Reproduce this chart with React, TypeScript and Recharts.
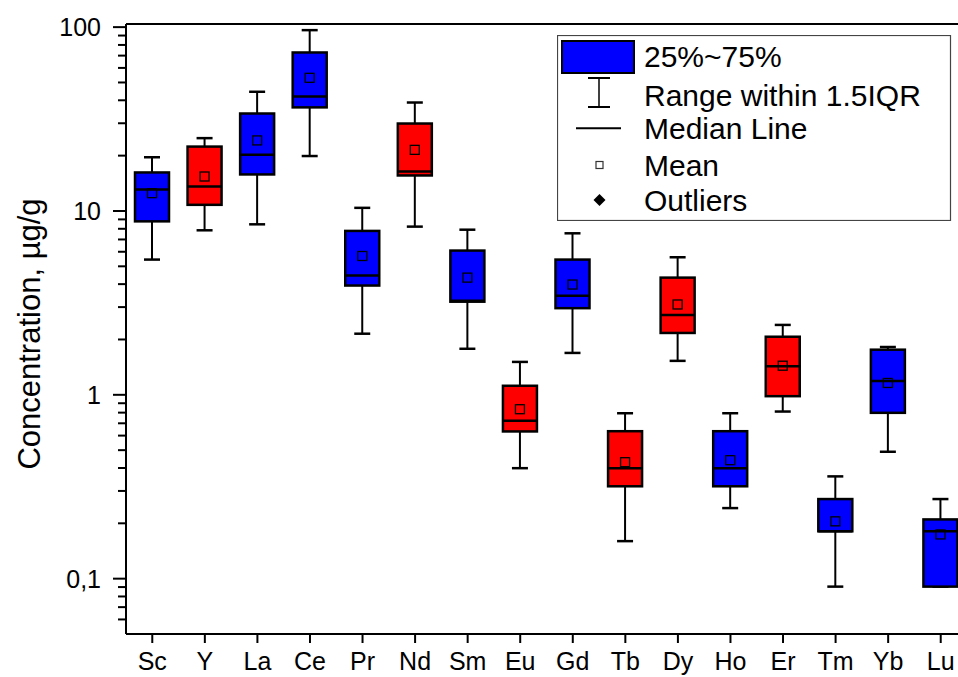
import React from "react";
import {
  Bar,
  ComposedChart,
  ReferenceLine,
  XAxis,
  YAxis,
} from "recharts";

const elements = ["Sc", "Y", "La", "Ce", "Pr", "Nd", "Sm", "Eu", "Gd", "Tb", "Dy", "Ho", "Er", "Tm", "Yb", "Lu"];
const whiskerLow = [5.44, 7.85, 8.46, 19.9, 2.15, 8.22, 1.78, 0.399, 1.69, 0.16, 1.53, 0.242, 0.811, 0.0905, 0.49, 0.0905];
const q1 = [8.78, 10.8, 15.8, 36.6, 3.93, 15.6, 3.21, 0.632, 2.96, 0.318, 2.17, 0.318, 0.983, 0.181, 0.798, 0.0905];
const median = [13.1, 13.6, 20.2, 42.0, 4.45, 16.4, 3.25, 0.722, 3.46, 0.399, 2.72, 0.399, 1.43, 0.181, 1.19, 0.181];
const q3 = [16.2, 22.4, 33.9, 72.8, 7.79, 29.9, 6.09, 1.12, 5.44, 0.634, 4.34, 0.634, 2.07, 0.271, 1.76, 0.21];
const whiskerHigh = [19.6, 24.9, 44.5, 96.3, 10.4, 38.9, 7.91, 1.51, 7.56, 0.794, 5.6, 0.794, 2.4, 0.36, 1.82, 0.271];
const mean = [12.5, 15.4, 24.2, 53.0, 5.69, 21.5, 4.34, 0.835, 3.98, 0.43, 3.1, 0.441, 1.44, 0.205, 1.16, 0.174];
const group = ["b", "r", "b", "b", "b", "r", "b", "r", "b", "r", "r", "b", "r", "b", "b", "b"];

const yTicks = [
  0.06, 0.07, 0.08, 0.09, 0.1, 0.2, 0.3, 0.4, 0.5, 0.6, 0.7, 0.8, 0.9,
  1, 2, 3, 4, 5, 6, 7, 8, 9, 10, 20, 30, 40, 50, 60, 70, 80, 90, 100,
];
const yMajor: Record<string, string> = { "0.1": "0,1", "1": "1", "10": "10", "100": "100" };

const legendItems = ["25%~75%", "Range within 1.5IQR", "Median Line", "Mean", "Outliers"];

const FONT = "'Liberation Sans', Arial, sans-serif";
const BLUE = "#0000FF";
const RED = "#FF0000";

const data = elements.map((name, i) => ({
  name,
  low: whiskerLow[i],
  q1: q1[i],
  median: median[i],
  q3: q3[i],
  high: whiskerHigh[i],
  mean: mean[i],
  color: group[i] === "r" ? RED : BLUE,
}));

// the bar spans low..high; inner levels follow the same log scale between those two ends
const BoxShape = (props: any) => {
  const { x, y, width, height, payload } = props;
  if (!payload) return null;
  const top = y;
  const bot = y + height;
  const lo = Math.log10(payload.low);
  const hi = Math.log10(payload.high);
  const py = (v: number) =>
    hi === lo ? bot : bot - ((Math.log10(v) - lo) / (hi - lo)) * (bot - top);
  const cx = x + width / 2;
  const cap = 8;
  const yq1 = py(payload.q1);
  const yq3 = py(payload.q3);
  const ym = py(payload.median);
  const ymean = py(payload.mean);
  return (
    <g>
      <line x1={cx} x2={cx} y1={top} y2={bot} stroke="#000" strokeWidth={2} />
      <line x1={cx - cap} x2={cx + cap} y1={top} y2={top} stroke="#000" strokeWidth={2.5} />
      <line x1={cx - cap} x2={cx + cap} y1={bot} y2={bot} stroke="#000" strokeWidth={2.5} />
      <rect
        x={x}
        y={yq3}
        width={width}
        height={Math.max(yq1 - yq3, 0)}
        fill={payload.color}
        stroke="#000"
        strokeWidth={2.5}
      />
      <line x1={x} x2={x + width} y1={ym} y2={ym} stroke="#000" strokeWidth={2.5} />
      <rect x={cx - 4.5} y={ymean - 4.5} width={9} height={9} fill="none" stroke="#000" strokeWidth={1.3} />
    </g>
  );
};

const YTick = (props: any) => {
  const { x, y, payload } = props;
  const label = yMajor[String(payload.value)];
  const len = label ? 13 : 8;
  return (
    <g>
      <line x1={x - len} x2={x} y1={y} y2={y} stroke="#000" strokeWidth={2} />
      {label && (
        <text x={x - 25} y={y} dy="0.36em" textAnchor="end" fontSize={25} fontFamily={FONT} fill="#000">
          {label}
        </text>
      )}
    </g>
  );
};

const LegendBox = () => {
  const rows = [21.7, 60, 93.3, 130, 165];
  return (
    <svg
      width={395}
      height={186}
      style={{ position: "absolute", left: 557, top: 35, display: "block" }}
    >
      <rect x={0.5} y={0.5} width={393} height={185} fill="#fff" stroke="#444" strokeWidth={1.2} />
      <rect x={5} y={6} width={72} height={32} fill={BLUE} stroke="#000" strokeWidth={2} />
      <line x1={42} x2={42} y1={43} y2={72} stroke="#000" strokeWidth={1.5} />
      <line x1={31} x2={53} y1={43} y2={43} stroke="#000" strokeWidth={2} />
      <line x1={31} x2={53} y1={72} y2={72} stroke="#000" strokeWidth={2} />
      <line x1={19} x2={64} y1={93.3} y2={93.3} stroke="#000" strokeWidth={2} />
      <rect x={39} y={126.5} width={7} height={7} fill="#fff" stroke="#333" strokeWidth={1.2} />
      <polygon points="42.5,159 48.5,165 42.5,171 36.5,165" fill="#000" />
      {legendItems.map((t, i) => (
        <text key={t} x={87} y={rows[i] + 10.5} fontSize={30} fontFamily={FONT} fill="#000">
          {t}
        </text>
      ))}
    </svg>
  );
};

export default function App() {
  return (
    <div
      style={{
        position: "fixed",
        left: 0,
        top: 0,
        width: 958,
        height: 677,
        overflow: "hidden",
        background: "#fff",
      }}
    >
      <ComposedChart
        width={980}
        height={677}
        data={data}
        margin={{ top: 24, right: 13, left: 0, bottom: 0 }}
      >
        <XAxis
          dataKey="name"
          type="category"
          interval={0}
          height={43}
          tickSize={9}
          tickMargin={9}
          axisLine={{ stroke: "#000", strokeWidth: 2 }}
          tickLine={{ stroke: "#000", strokeWidth: 2 }}
          tick={{ fontSize: 25, fill: "#000", fontFamily: FONT }}
        />
        <YAxis
          scale="log"
          type="number"
          domain={[0.05, 104]}
          allowDataOverflow
          ticks={yTicks}
          interval={0}
          width={126}
          tickSize={0}
          tickMargin={0}
          tickLine={false}
          axisLine={{ stroke: "#000", strokeWidth: 2 }}
          tick={<YTick />}
          label={() => (
            <text
              x={40}
              y={334}
              transform="rotate(-90, 40, 334)"
              textAnchor="middle"
              fontSize={31}
              fontFamily={FONT}
              fill="#000"
            >
              Concentration, µg/g
            </text>
          )}
        />
        <ReferenceLine y={104} stroke="#000" strokeWidth={2} ifOverflow="visible" />
        <Bar
          dataKey={(d: any) => [d.low, d.high]}
          barSize={34}
          shape={<BoxShape />}
          isAnimationActive={false}
        />
      </ComposedChart>
      <LegendBox />
    </div>
  );
}
